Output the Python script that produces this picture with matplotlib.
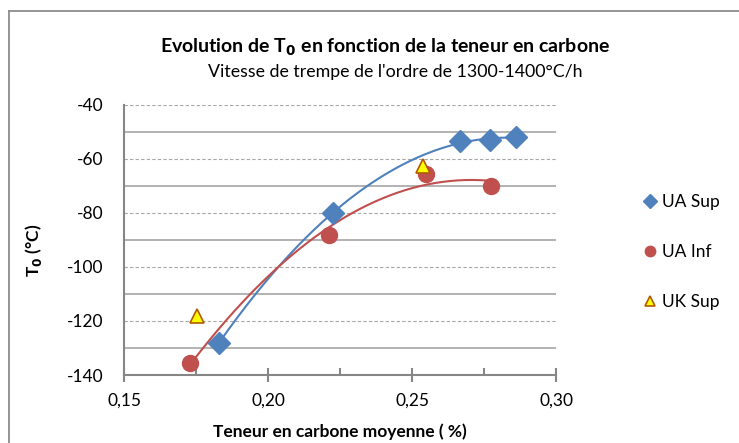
import numpy as np
import matplotlib
matplotlib.use("Agg")
import matplotlib.pyplot as plt
from matplotlib.lines import Line2D
from matplotlib.ticker import MultipleLocator, FixedLocator

plt.rcParams['font.family'] = ['Lato', 'DejaVu Sans']
plt.rcParams['axes.unicode_minus'] = False

# Mean carbon content (%) and T0 (°C) per series
ua_sup_x = [0.183, 0.2226, 0.2667, 0.2771, 0.2861]
ua_sup_y = [-128, -80, -53.5, -53, -52]
ua_inf_x = [0.173, 0.2212, 0.2549, 0.2774]
ua_inf_y = [-135.5, -88, -65.5, -70]
uk_sup_x = [0.1753, 0.2538]
uk_sup_y = [-118, -62.5]

x_ticks = [0.15, 0.20, 0.25, 0.30]
x_tick_labels = ["0,15", "0,20", "0,25", "0,30"]
y_ticks = [-140, -120, -100, -80, -60, -40]

blue = "#4F81BD"
red = "#C0504D"

W, H = 739, 443
fig = plt.figure(figsize=(W / 100, H / 100), dpi=100)
ax = fig.add_axes([124 / W, 1 - 375 / H, 432 / W, 270 / H])

# Chart-area frame (top and left edges)
frame_kw = dict(transform=fig.transFigure, color="#8C8C8C", linewidth=1.3)
fig.lines.append(Line2D([8.5 / W, 1.0], [1 - 10.5 / H, 1 - 10.5 / H], **frame_kw))
fig.lines.append(Line2D([8.5 / W, 8.5 / W], [0.0, 1 - 10.5 / H], **frame_kw))

ax.set_xlim(0.15, 0.30)
ax.set_ylim(-140, -40)

# Gridlines: dashed at labelled values, solid between
ax.yaxis.set_major_locator(FixedLocator(y_ticks))
ax.yaxis.set_minor_locator(FixedLocator([-130, -110, -90, -70, -50]))
ax.grid(True, axis='y', which='major', color="#A6A6A6", linestyle=(0, (3, 2)), linewidth=0.8)
ax.grid(True, axis='y', which='minor', color="#A6A6A6", linestyle='-', linewidth=1.2)
ax.set_axisbelow(True)

ax.xaxis.set_major_locator(FixedLocator(x_ticks))
ax.set_xticklabels(x_tick_labels)
ax.xaxis.set_minor_locator(MultipleLocator(0.025))

for s in ['top', 'right']:
    ax.spines[s].set_visible(False)
for s in ['left', 'bottom']:
    ax.spines[s].set_color("#868686")
    ax.spines[s].set_linewidth(1.5)

ax.tick_params(axis='x', which='major', direction='inout', length=10, width=1.5,
               color="#868686", labelsize=12.5, pad=8)
ax.tick_params(axis='x', which='minor', direction='in', length=5, width=1.5, color="#868686")
ax.tick_params(axis='y', which='both', length=0, labelsize=12.5, pad=15)

# Second-order trend lines
for xs, ys, c in [(ua_sup_x, ua_sup_y, blue), (ua_inf_x, ua_inf_y, red)]:
    coef = np.polyfit(xs, ys, 2)
    xx = np.linspace(min(xs), max(xs), 200)
    ax.plot(xx, np.polyval(coef, xx), color=c, linewidth=1.5, zorder=2)

ax.plot(ua_sup_x, ua_sup_y, linestyle='none', marker='D', markersize=11,
        color=blue, markeredgecolor=blue, label="UA Sup", zorder=3, clip_on=False)
ax.plot(ua_inf_x, ua_inf_y, linestyle='none', marker='o', markersize=11.5,
        color=red, markeredgecolor=red, label="UA Inf", zorder=3, clip_on=False)
ax.plot(uk_sup_x, uk_sup_y, linestyle='none', marker='^', markersize=10,
        color="#FFFF00", markeredgecolor="#B25A00", markeredgewidth=1.2,
        label="UK Sup", zorder=4, clip_on=False)

leg = ax.legend(loc='upper left', bbox_to_anchor=(641 / W, 1 - 194 / H),
                bbox_transform=fig.transFigure, frameon=False, borderpad=0,
                borderaxespad=0, fontsize=12.5, labelspacing=1.95, handletextpad=0.2,
                handlelength=1.0, markerscale=0.65)

fig.text(0.521, 1 - 47 / H, "Evolution de T$_\\mathbf{0}$ en fonction de la teneur en carbone",
         ha='center', va='center', fontsize=14, fontweight='bold')
fig.text(0.535, 1 - 72 / H, "Vitesse de trempe de l'ordre de 1300-1400°C/h",
         ha='center', va='center', fontsize=12.8)

ax.set_xlabel("Teneur en carbone moyenne ( %)", fontsize=12.5, fontweight='bold')
ax.xaxis.set_label_coords((340 - 124) / 432, -(432 - 375) / 270)
ax.xaxis.label.set_va('center')
ax.set_ylabel("T$_\\mathbf{0}$ (°C)", fontsize=12.5, fontweight='bold')
ax.yaxis.set_label_coords((33 - 124) / 432, (375 - 250) / 270)
ax.yaxis.label.set_va('center')

fig.savefig("out.png", dpi=100)
